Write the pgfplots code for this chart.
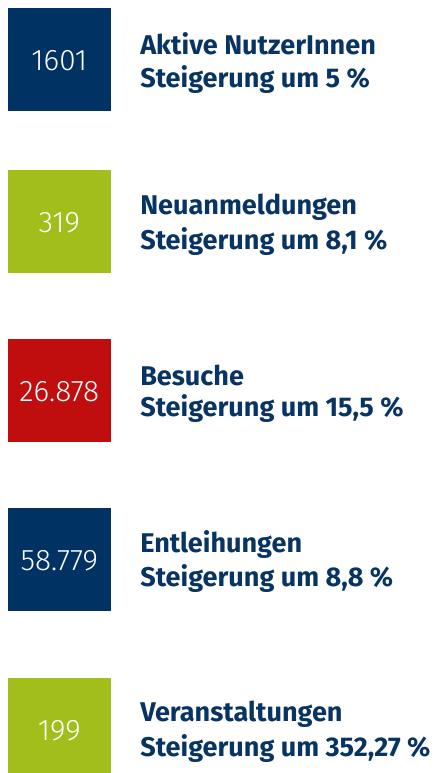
\documentclass[border=0pt]{standalone}
\usepackage{pgfplots}
\pgfplotsset{compat=1.18}
\usepackage{fontspec}
\setmainfont{Fira Sans}
\newfontfamily\numfont{Fira Sans Light}
\definecolor{navy}{RGB}{0,50,100}
\definecolor{txt}{RGB}{8,52,100}
\definecolor{lime}{RGB}{162,190,26}
\definecolor{crimson}{RGB}{192,14,14}
\begin{document}
\begin{tikzpicture}
\begin{axis}[
  scale only axis, x=0.75pt, y=0.75pt,
  xmin=0, xmax=438, ymin=0, ymax=773, y dir=reverse,
  hide axis, clip=true,
]
% boxes: top y 8,170,339.3,508.3,678 ; height 102.7 ; x 8 .. 110.7
\addplot[fill=navy, draw=none] coordinates {(8,8) (110.7,8) (110.7,110.7) (8,110.7)} -- cycle;
\addplot[fill=lime, draw=none] coordinates {(8,170) (110.7,170) (110.7,272.7) (8,272.7)} -- cycle;
\addplot[fill=crimson, draw=none] coordinates {(8,339.3) (110.7,339.3) (110.7,442) (8,442)} -- cycle;
\addplot[fill=navy, draw=none] coordinates {(8,508.3) (110.7,508.3) (110.7,611) (8,611)} -- cycle;
\addplot[fill=lime, draw=none] coordinates {(8,678) (110.7,678) (110.7,780.7) (8,780.7)} -- cycle;
\addplot[draw=none, mark=none] coordinates {(0,0) (438,773)};

\tikzset{num/.style={anchor=base, text=white, font=\numfont\fontsize{22.3}{22.3}\selectfont, inner sep=0pt},
         lab/.style={anchor=base west, text=txt, font=\bfseries\fontsize{20.3}{20.3}\selectfont, inner sep=0pt}}
\node[num] at (axis cs:59.3,70.5) {1601};
\node[num] at (axis cs:59.3,232.5) {319};
\node[num] at (axis cs:59.3,401.7) {26.878};
\node[num] at (axis cs:59.3,570.5) {58.779};
\node[num] at (axis cs:59.3,740) {199};

\node[lab] at (axis cs:140,55) {Aktive NutzerInnen};
\node[lab] at (axis cs:140,87.3) {Steigerung um 5 \%};
\node[lab] at (axis cs:140,215) {Neuanmeldungen};
\node[lab] at (axis cs:140,249.3) {Steigerung um 8,1 \%};
\node[lab] at (axis cs:140,385) {Besuche};
\node[lab] at (axis cs:140,416.7) {Steigerung um 15,5 \%};
\node[lab] at (axis cs:140,552.3) {Entleihungen};
\node[lab] at (axis cs:140,586.7) {Steigerung um 8,8 \%};
\node[lab] at (axis cs:140,721.7) {Veranstaltungen};
\node[lab] at (axis cs:140,756.7) {Steigerung um 352,27 \%};
\end{axis}
\pgfresetboundingbox
\path[use as bounding box] (current axis.south west) rectangle (current axis.north east);
\end{tikzpicture}
\end{document}
